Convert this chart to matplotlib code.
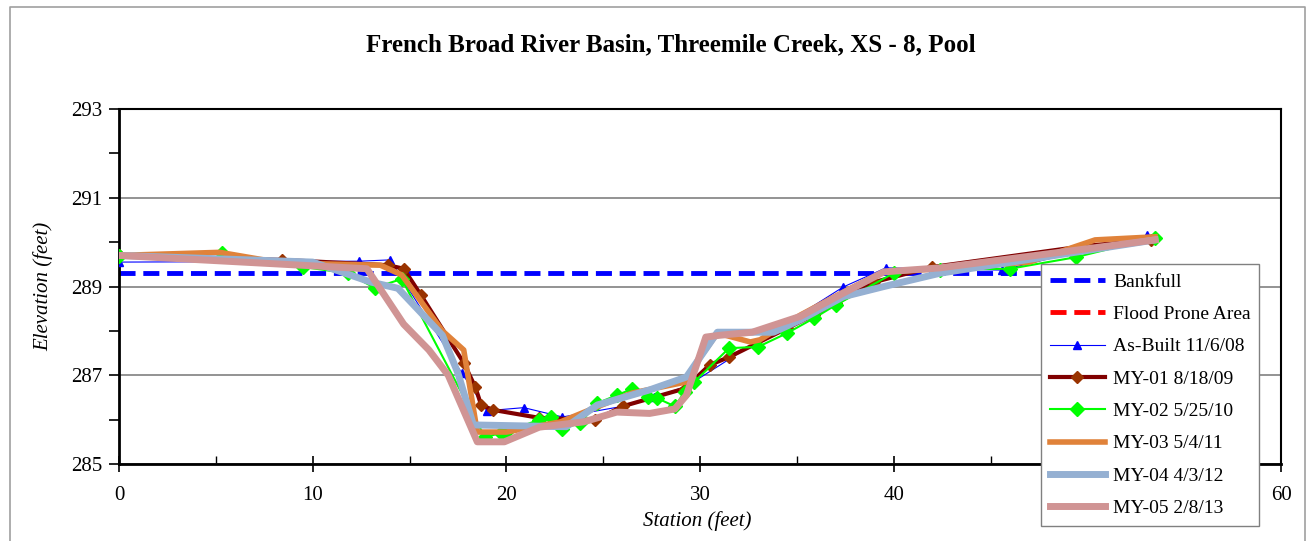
import matplotlib
matplotlib.use("Agg")
import matplotlib.pyplot as plt
from matplotlib.ticker import MultipleLocator, FixedLocator
from matplotlib.lines import Line2D

plt.rcParams["font.family"] = ["Liberation Serif", "DejaVu Serif"]

# bankfull elevation (feet)
bankfull_x = [0, 53.5]
bankfull_y = [289.3, 289.3]

asbuilt_x = [0, 12.4, 14.0, 17.7, 19.0, 20.9, 22.9, 26.0, 27.6, 29.3, 37.4, 39.6, 45.6, 53.1]
asbuilt_y = [289.55, 289.57, 289.6, 287.05, 286.2, 286.27, 286.06, 286.3, 286.5, 286.75, 288.99, 289.42, 289.37, 290.16]

my01_x = [0, 8.4, 13.9, 14.7, 15.6, 17.8, 18.4, 18.7, 19.3, 21.7, 24.6, 26.0, 29.2, 30.5, 31.5,
          34.5, 35.9, 37.0, 39.0, 42.0, 50.0, 53.3]
my01_y = [289.7, 289.6, 289.48, 289.4, 288.8, 287.28, 286.73, 286.33, 286.22, 286.04, 285.99, 286.3,
          286.7, 287.23, 287.41, 288.06, 288.36, 288.62, 289.1, 289.44, 289.92, 290.05]

my02_x = [0, 5.3, 9.5, 11.8, 13.2, 14.6, 18.9, 19.7, 20.0, 21.7, 22.3, 22.9, 23.8, 24.7, 25.7, 26.5,
          27.3, 27.8, 28.7, 29.2, 29.7, 31.5, 33.0, 34.5, 35.9, 37.0, 40.0, 42.4, 46.0, 49.4, 53.5]
my02_y = [289.69, 289.75, 289.44, 289.3, 288.97, 289.17, 285.6, 285.7, 285.72, 286.0, 286.06, 285.8,
          285.92, 286.37, 286.55, 286.69, 286.51, 286.48, 286.3, 286.62, 286.85, 287.61, 287.64,
          287.95, 288.29, 288.58, 289.3, 289.38, 289.4, 289.66, 290.1]

my03_x = [0, 5.2, 8.4, 13.5, 14.6, 16.7, 17.8, 18.5, 20.0, 22.8, 24.7, 26.5, 29.3, 30.0, 30.9, 32.6,
          33.1, 35.2, 37.6, 39.5, 42.4, 47.0, 50.4, 53.5]
my03_y = [289.7, 289.77, 289.53, 289.48, 289.26, 288.0, 287.57, 285.72, 285.72, 285.95, 286.29,
          286.6, 286.85, 287.4, 287.95, 287.75, 287.8, 288.36, 288.92, 289.33, 289.4, 289.55,
          290.05, 290.12]

my04_x = [0, 10.0, 13.0, 14.4, 16.7, 17.5, 18.3, 23.1, 24.7, 27.4, 29.3, 30.9, 33.8, 35.2, 37.4,
          39.5, 42.4, 53.5]
my04_y = [289.7, 289.55, 289.1, 288.96, 287.9, 287.05, 285.88, 285.84, 286.33, 286.67, 286.96,
          287.97, 287.97, 288.25, 288.77, 289.0, 289.3, 290.05]

my05_x = [0, 12.8, 14.7, 16.0, 17.0, 18.5, 19.9, 21.7, 24.0, 25.7, 27.4, 28.7, 29.3, 30.3, 31.0,
          32.7, 35.2, 37.4, 39.5, 42.4, 53.5]
my05_y = [289.7, 289.4, 288.15, 287.57, 287.0, 285.5, 285.5, 285.83, 285.95, 286.17, 286.14,
          286.24, 286.55, 287.86, 287.9, 287.97, 288.33, 288.85, 289.33, 289.42, 290.05]

y_major = [285, 287, 289, 291, 293]
y_minor = [286, 288, 290, 292]

W, H = 1310, 541
fig = plt.figure(figsize=(W / 100, H / 100), dpi=100)
ax = fig.add_axes([119 / W, 1 - 464 / H, (1281 - 119) / W, (464 - 109) / H])

# outer chart border
fig.add_artist(Line2D([10 / W, 10 / W, 1305 / W, 1305 / W], [0, 1 - 7 / H, 1 - 7 / H, 0],
                      transform=fig.transFigure, color="#a0a0a0", lw=1.2))

ax.plot(bankfull_x, bankfull_y, color="#0000ff", lw=3.5, ls=(0, (3.3, 1.6)), label="Bankfull", zorder=2)
ax.plot([], [], color="#ff0000", lw=3.5, ls=(0, (3.3, 1.6)), label="Flood Prone Area")
ax.plot(asbuilt_x, asbuilt_y, color="#0000ff", lw=0.8, marker="^", ms=6, label="As-Built 11/6/08", zorder=3)
ax.plot(my01_x, my01_y, color="#800000", lw=3, marker="D", ms=6, mfc="#993300", mec="#993300",
        label="MY-01 8/18/09", zorder=3)
ax.plot(my02_x, my02_y, color="#00ff00", lw=1.5, marker="D", ms=7, label="MY-02 5/25/10", zorder=3)
ax.plot(my03_x, my03_y, color="#e0823a", lw=4, label="MY-03 5/4/11", zorder=3)
ax.plot(my04_x, my04_y, color="#95b0d2", lw=5, label="MY-04 4/3/12", zorder=3)
ax.plot(my05_x, my05_y, color="#d09494", lw=5, label="MY-05 2/8/13", zorder=3)

ax.set_xlim(0, 60)
ax.set_ylim(285, 293)
ax.xaxis.set_major_locator(MultipleLocator(10))
ax.xaxis.set_minor_locator(MultipleLocator(5))
ax.yaxis.set_major_locator(FixedLocator(y_major))
ax.yaxis.set_minor_locator(FixedLocator(y_minor))
ax.tick_params(axis="x", which="major", direction="inout", length=12, width=1.2, labelsize=15, pad=10)
ax.tick_params(axis="x", which="minor", direction="in", length=6, width=1)
ax.tick_params(axis="y", which="both", direction="out", length=7, width=1.2, labelsize=15, pad=5)
ax.grid(axis="y", which="major", color="#808080", lw=1.2)
for s in ["left", "bottom"]:
    ax.spines[s].set_linewidth(2)
for s in ["top", "right"]:
    ax.spines[s].set_linewidth(1.5)

fig.text(671 / W, 1 - 45 / H, "French Broad River Basin, Threemile Creek, XS - 8, Pool",
         ha="center", va="center", fontsize=18, fontweight="bold")
fig.text(43 / W, 1 - 286 / H, "Elevation (feet)", rotation=90, ha="center", va="center",
         fontsize=15, style="italic")
fig.text(697 / W, 1 - 521 / H, "Station (feet)", ha="center", va="center",
         fontsize=15, style="italic")

leg = ax.legend(loc="lower left", bbox_to_anchor=(1041 / W, 15 / H), bbox_transform=fig.transFigure,
                fontsize=14, frameon=True, fancybox=False, edgecolor="#808080", framealpha=1,
                handlelength=2.85, labelspacing=0.76, borderpad=0.45, handletextpad=0.4,
                borderaxespad=0)
leg.get_frame().set_linewidth(1)
leg.set_zorder(10)

fig.savefig("out.png", dpi=100)
